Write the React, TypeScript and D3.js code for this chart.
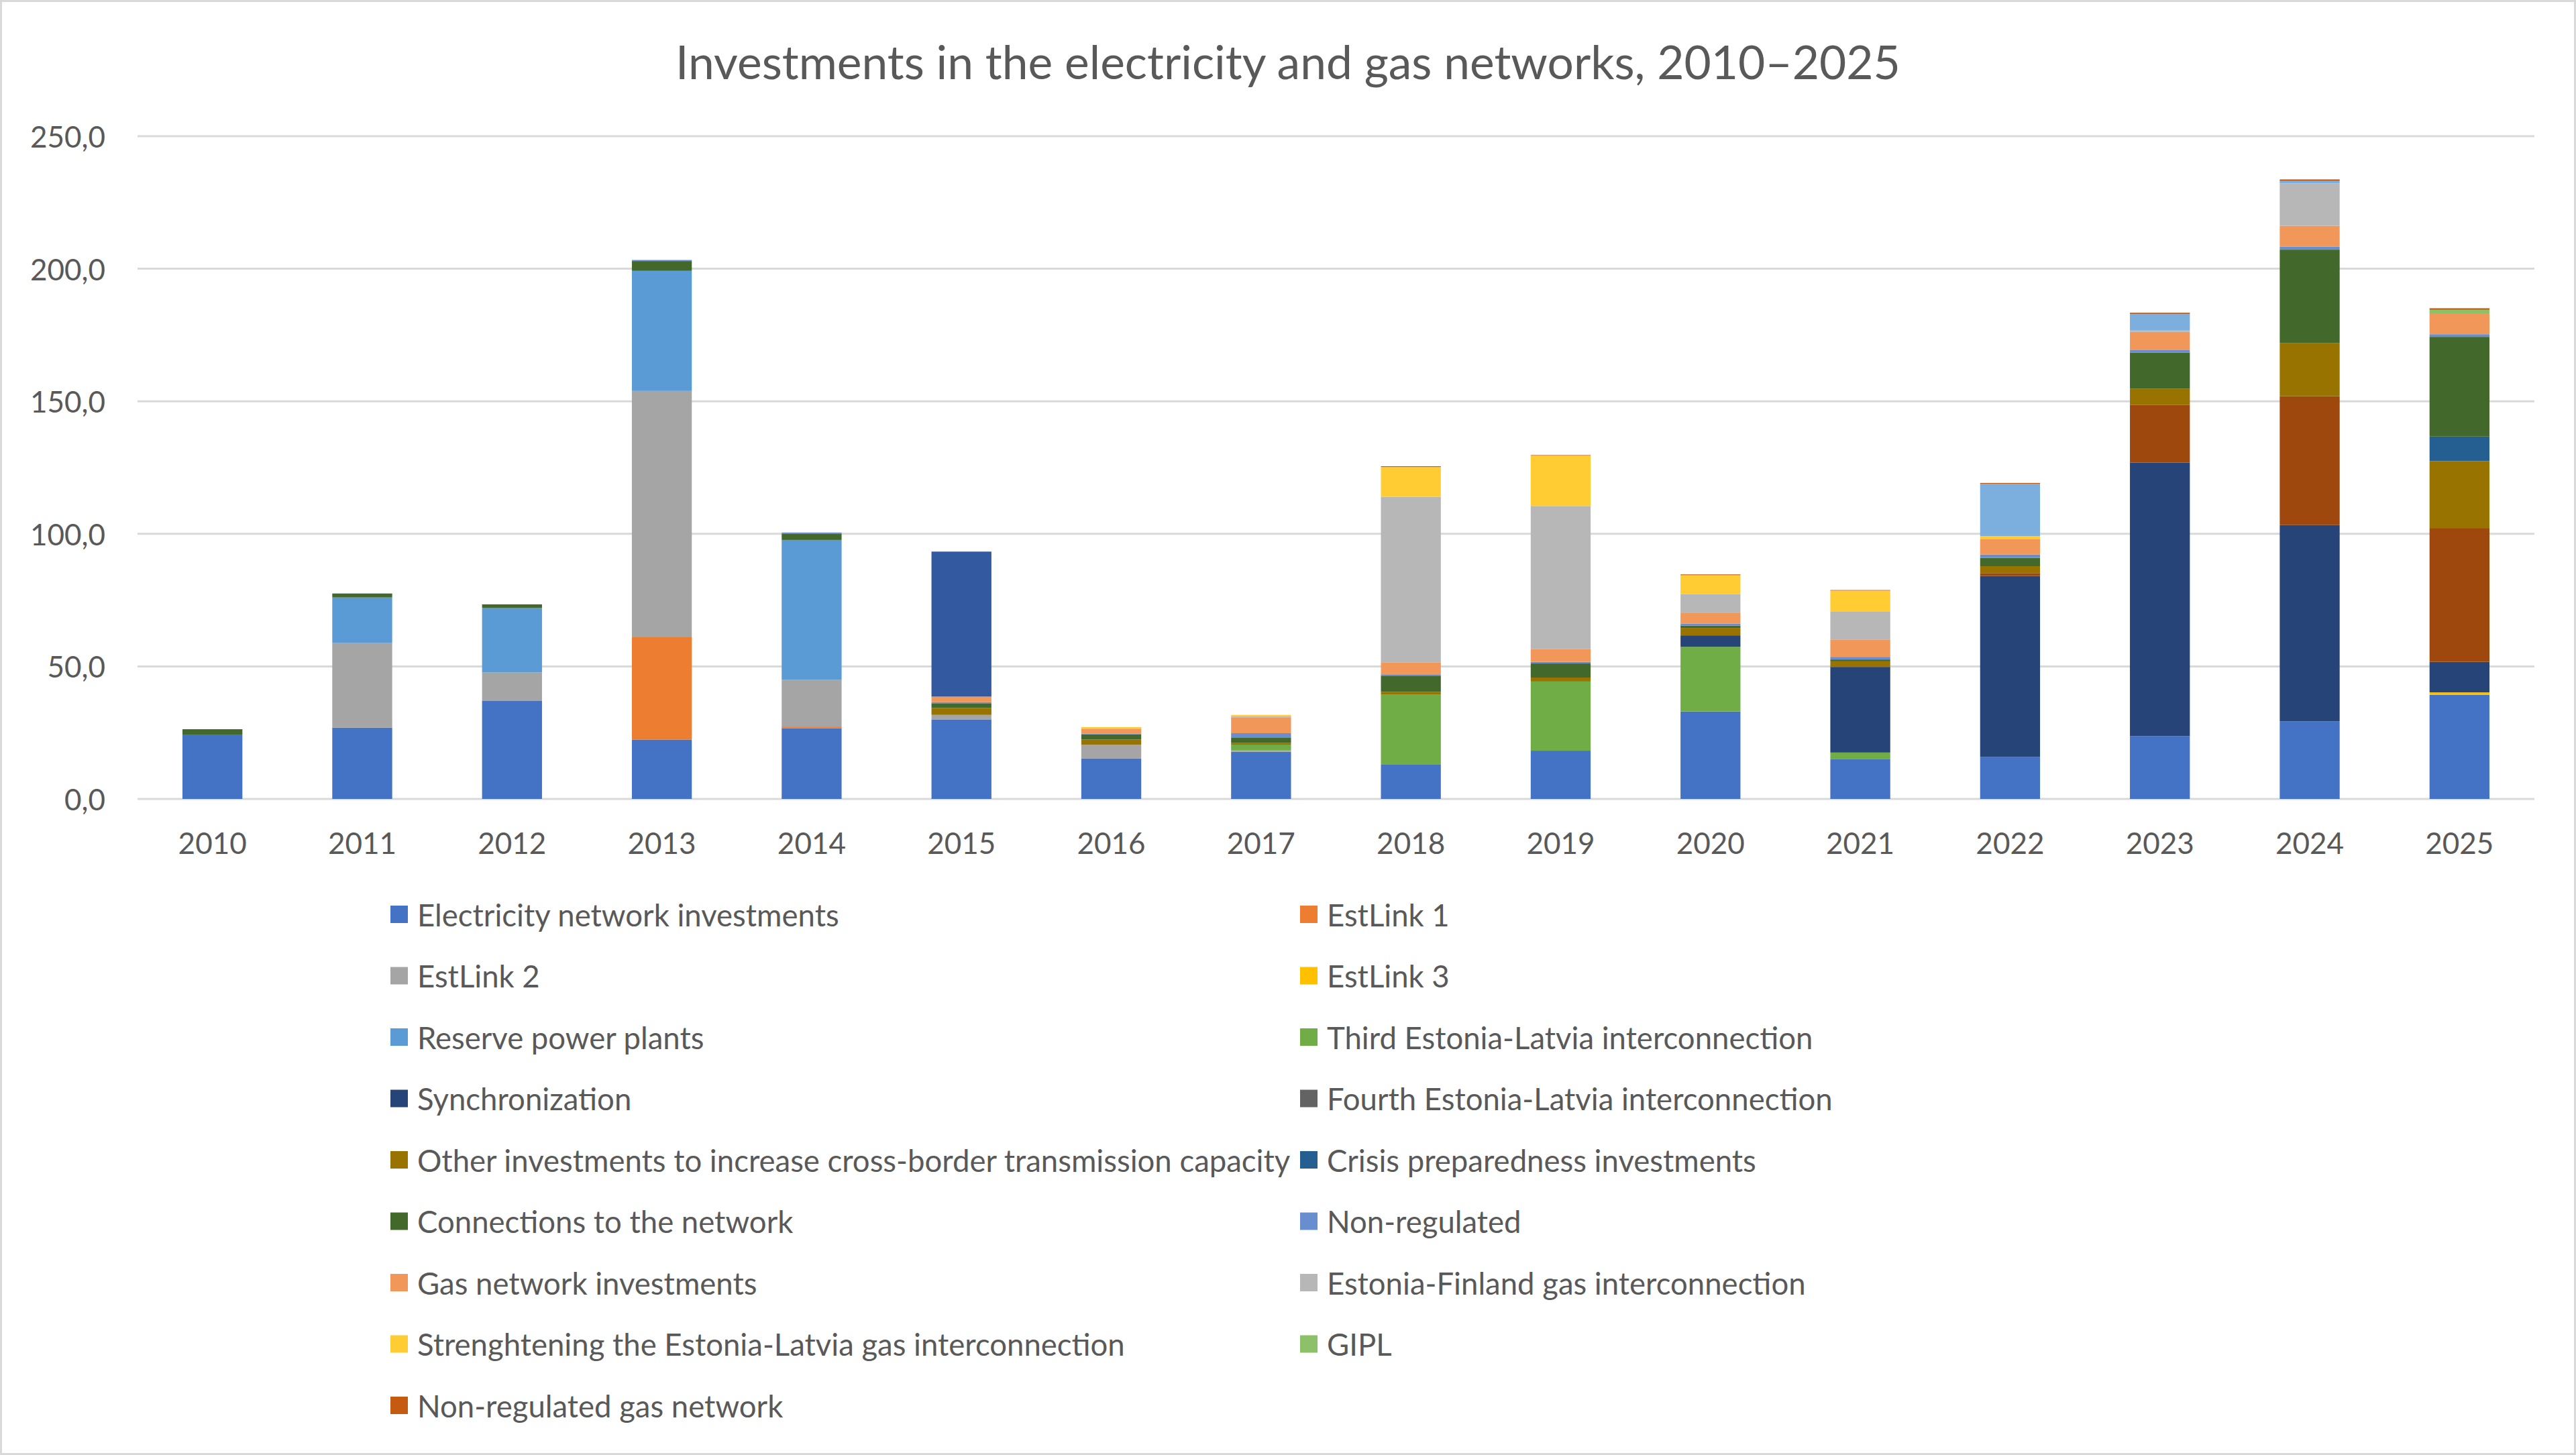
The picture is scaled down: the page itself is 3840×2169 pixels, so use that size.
import React from 'react';
import * as d3 from 'd3';

const years = ['2010','2011','2012','2013','2014','2015','2016','2017','2018','2019','2020','2021','2022','2023','2024','2025'];

const electricity   = [24.3, 26.9, 37.1, 22.4, 26.7, 30.0, 15.3, 17.8, 12.9, 18.2, 33.0, 15.1, 15.9, 23.7, 29.3, 39.3];
const estLink1      = [0, 0, 0, 38.8, 0.6, 0, 0, 0, 0, 0, 0, 0, 0, 0, 0, 0];
const estLink2      = [0, 31.9, 10.6, 92.7, 17.6, 1.7, 5.1, 0.5, 0, 0, 0, 0, 0, 0, 0, 0];
const estLink3      = [0, 0, 0, 0, 0, 0, 0, 0, 0, 0, 0, 0, 0, 0, 0, 0.9];
const reserve       = [0, 17.2, 24.3, 45.3, 52.8, 0, 0, 0, 0, 0, 0, 0, 0, 0, 0, 0];
const thirdEeLv     = [0, 0, 0, 0, 0, 0, 0, 2.2, 26.4, 26.1, 24.4, 2.4, 0, 0, 0, 0];
const synchronization = [0, 0, 0, 0, 0, 0, 0, 0, 0, 0, 4.3, 32.3, 68.2, 103.2, 74.0, 11.5];
const unlabelledA   = [0, 0, 0, 0, 0, 0, 0, 0, 0, 0, 0, 0, 1.1, 21.8, 48.6, 50.5];
const fourthEeLv    = [0, 0, 0, 0, 0, 0, 0, 0, 0, 0, 0, 0, 0, 0, 0, 0];
const otherCrossBorder = [0, 0, 0, 0, 0, 2.6, 2.0, 0.6, 1.1, 1.5, 2.8, 2.1, 2.6, 6.0, 20.0, 25.2];
const crisis        = [0, 0, 0, 0, 0, 0, 0, 0, 0, 0, 0, 0, 0, 0, 0, 9.3];
const connections   = [2.0, 1.5, 1.4, 3.7, 2.4, 1.8, 2.0, 2.1, 6.1, 5.3, 0.9, 0.7, 3.1, 13.7, 35.3, 37.6];
const nonRegulated  = [0, 0, 0, 0.4, 0.4, 0.4, 0.3, 1.6, 0.5, 0.6, 0.7, 1.0, 1.3, 0.9, 1.1, 1.0];
const gasNetwork    = [0, 0, 0, 0, 0, 2.1, 1.8, 6.0, 4.4, 4.9, 4.0, 6.4, 5.9, 6.9, 7.9, 7.9];
const estFinGas     = [0, 0, 0, 0, 0, 0, 0, 0.4, 62.6, 53.9, 7.1, 10.6, 0, 0.5, 16.0, 0];
const strengthening = [0, 0, 0, 0, 0, 0, 0.6, 0.5, 11.2, 19.0, 7.2, 8.0, 1.1, 0, 0, 0];
const unlabelledB   = [0, 0, 0, 0, 0, 0, 0, 0, 0, 0, 0, 0, 19.7, 6.2, 0.9, 0];
const gipl          = [0, 0, 0, 0, 0, 0, 0, 0, 0, 0, 0, 0, 0, 0, 0, 1.3];
const unlabelledC   = [0, 0, 0, 0, 0, 54.7, 0, 0, 0, 0, 0, 0, 0, 0, 0, 0];
const nonRegGas     = [0, 0, 0, 0, 0, 0, 0, 0, 0.3, 0.2, 0.3, 0.2, 0.3, 0.5, 0.6, 0.6];

const yTicks = [0, 50, 100, 150, 200, 250];

type S = { key: string; name: string; values: number[]; color: string; legend: boolean };
const series: S[] = [
  { key: 's1', name: 'Electricity network investments', values: electricity, color: '#4472C4', legend: true },
  { key: 's2', name: 'EstLink 1', values: estLink1, color: '#ED7D31', legend: true },
  { key: 's3', name: 'EstLink 2', values: estLink2, color: '#A5A5A5', legend: true },
  { key: 's4', name: 'EstLink 3', values: estLink3, color: '#FFC000', legend: true },
  { key: 's5', name: 'Reserve power plants', values: reserve, color: '#5B9BD5', legend: true },
  { key: 's6', name: 'Third Estonia-Latvia interconnection', values: thirdEeLv, color: '#70AD47', legend: true },
  { key: 's7', name: 'Synchronization', values: synchronization, color: '#264478', legend: true },
  { key: 's8', name: 'Series 8', values: unlabelledA, color: '#9E480E', legend: false },
  { key: 's9', name: 'Fourth Estonia-Latvia interconnection', values: fourthEeLv, color: '#636363', legend: true },
  { key: 's10', name: 'Other investments to increase cross-border transmission capacity', values: otherCrossBorder, color: '#997300', legend: true },
  { key: 's11', name: 'Crisis preparedness investments', values: crisis, color: '#255E91', legend: true },
  { key: 's12', name: 'Connections to the network', values: connections, color: '#43682B', legend: true },
  { key: 's13', name: 'Non-regulated', values: nonRegulated, color: '#698ED0', legend: true },
  { key: 's14', name: 'Gas network investments', values: gasNetwork, color: '#F1975A', legend: true },
  { key: 's15', name: 'Estonia-Finland gas interconnection', values: estFinGas, color: '#B7B7B7', legend: true },
  { key: 's16', name: 'Strenghtening the Estonia-Latvia gas interconnection', values: strengthening, color: '#FFCD33', legend: true },
  { key: 's17', name: 'Series 17', values: unlabelledB, color: '#7CAFDD', legend: false },
  { key: 's18', name: 'GIPL', values: gipl, color: '#8CC168', legend: true },
  { key: 's19', name: 'Series 19', values: unlabelledC, color: '#335AA1', legend: false },
  { key: 's20', name: 'Non-regulated gas network', values: nonRegGas, color: '#C55A11', legend: true },
];

const W = 3840, H = 2169;
const FONT = 'Lato, "Open Sans", sans-serif';
const TXT = '#595959';

export default function App() {
  const rows = years.map((y, i) => {
    const r: any = { year: y };
    series.forEach(s => { r[s.key] = s.values[i]; });
    return r;
  });
  const stacked = d3.stack<any>().keys(series.map(s => s.key))(rows);

  const x = d3.scaleBand<string>().domain(years).range([205, 3778]).paddingInner(0.6).paddingOuter(0.3);
  const y = d3.scaleLinear().domain([0, 250]).range([1191, 203]);
  const fmt = (v: number) => d3.format('.1f')(v).replace('.', ',');

  const legendItems = series.filter(s => s.legend);
  const legCol = [582, 1938];
  const legRow0 = 1363, legStep = 91.5;

  return (
    <svg width={W} height={H} style={{ position: 'absolute', left: 0, top: 0, background: '#fff' }} fontFamily={FONT}>
      <rect x={0} y={0} width={W} height={H} fill="#fff" />
      <rect x={1.5} y={1.5} width={W - 3} height={H - 3} fill="none" stroke="#D9D9D9" strokeWidth={3} />
      <text x={W / 2} y={91} textAnchor="middle" dominantBaseline="central" fontSize={69.5} fill={TXT}>
        Investments in the electricity and gas networks, 2010–2025
      </text>
      {yTicks.map(t => (
        <g key={t}>
          <line x1={205} x2={3778} y1={y(t)} y2={y(t)} stroke="#D9D9D9" strokeWidth={3} />
          <text x={157} y={y(t)} textAnchor="end" dominantBaseline="central" fontSize={44} fill={TXT}>{fmt(t)}</text>
        </g>
      ))}
      {stacked.map((layer, li) => (
        <g key={layer.key} fill={series[li].color}>
          {layer.map((d, i) => {
            const h = y(d[0]) - y(d[1]);
            if (h <= 0) return null;
            return <rect key={i} x={x(years[i])} y={y(d[1])} width={x.bandwidth()} height={h} />;
          })}
        </g>
      ))}
      {years.map(yr => (
        <text key={yr} x={(x(yr) as number) + x.bandwidth() / 2} y={1256} textAnchor="middle" dominantBaseline="central" fontSize={44} fill={TXT}>{yr}</text>
      ))}
      {legendItems.map((s, i) => {
        const cx = legCol[i % 2];
        const cy = legRow0 + Math.floor(i / 2) * legStep;
        return (
          <g key={s.key}>
            <rect x={cx} y={cy - 13} width={26} height={26} fill={s.color} />
            <text x={cx + 40} y={cy} dominantBaseline="central" fontSize={45.5} fill={TXT}>{s.name}</text>
          </g>
        );
      })}
    </svg>
  );
}
